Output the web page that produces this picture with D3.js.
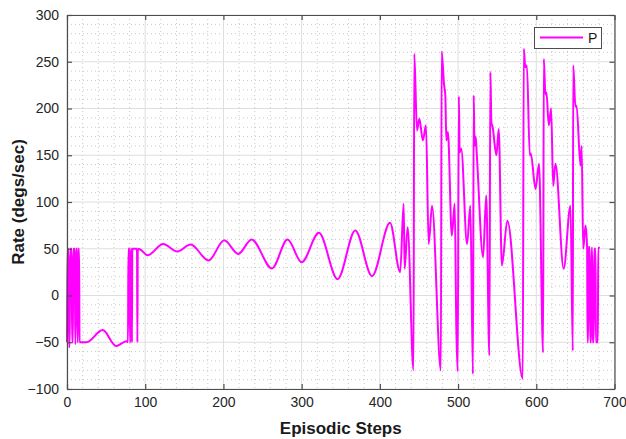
<!DOCTYPE html>
<html>
<head>
<meta charset="utf-8">
<script src="https://cdn.jsdelivr.net/npm/d3@7"></script>
<style>
  html, body { margin: 0; padding: 0; background: #fff; }
  svg { display: block; font-family: "Liberation Sans", Arial, Helvetica, sans-serif; }
</style>
</head>
<body>
<svg id="chart" width="626" height="439"></svg>
<script>
// ---- data ----
const steps = [
  0, 0.5, 2, 2.5, 3.5, 4, 6, 6.5, 7.5, 8, 10, 10.5, 11, 11.5, 13, 13.5, 14, 14.5, 15.5, 16,
  25, 45.6, 62.7, 76, 78,
  78.5, 80, 80.5, 81, 81.5, 82.5, 83, 83.5, 89.5, 90, 90.5,
  94, 103, 123, 141, 158, 181, 201, 219, 236, 262, 282, 300, 322, 346, 368.6, 390, 413,
  426, 430.4, 431.7, 435.5, 443, 444, 447.5, 450.5, 455, 459, 462.4, 466.7,
  478, 479, 482, 483.7, 485, 487, 492, 495.7, 497.8, 499.5, 501, 502, 504, 511.5, 515.7,
  519, 520, 521, 522.5, 524, 532, 536, 540, 541.3, 542.6, 544, 549, 552, 556, 563, 582.7,
  584, 586, 588, 591.7, 593, 599, 603.5, 608.7,
  609.6, 611.7, 613, 616, 619, 621.6, 624.5, 635, 643.7, 646.7,
  647.2, 650, 651.5, 656.5, 658, 660, 663, 665,
  665.5, 666.3, 666.8, 668.4, 668.9, 670.2, 670.7, 671.5, 672, 673.5, 674, 675.7, 676.2, 678.7, 679.2, 681.3
];
const rates = [
  -50, 50, 50, -55, -55, 50, 50, -50, -50, 50, 50, -52, -52, 50, 50, -50, -50, 50, 50, -50,
  -50, -37, -54, -49, -50,
  50, 50, -50, -50, 50, 50, -50, 50, 50, -50, 50,
  49, 43, 55, 47, 54.5, 37.5, 59, 44.5, 60, 29, 60, 35.5, 67, 17.5, 69.5, 20.7, 77.7,
  25, 98, 28.5, 73, -80, 258.5, 176.5, 189, 166, 182, 55, 96,
  -80, 261, 226, 214, 166, 175, 64, 98, -36, -81, 213, 153, 157, 55, 96,
  -84, 214, 160, 170, 150, 41, 107, -64, 239, 185, 181, 150, 178, 32, 80, -89,
  264, 244, 246, 150, 152, 114, 141, -61,
  253, 215, 217, 182, 200, 117, 141, 28.5, 96, -59,
  246, 202, 203, 139, 160, 50, 75, 50,
  -50, -50, 52, 52, -50, -50, 51, 51, -50, -50, 50, 50, -50, -50, 51, 51
];
const xTicks = [0, 100, 200, 300, 400, 500, 600, 700];
const yTicks = [-100, -50, 0, 50, 100, 150, 200, 250, 300];
const seriesName = "P";
const xLabel = "Episodic Steps";
const yLabel = "Rate (degs/sec)";

// ---- layout ----
const L = 67, T = 15, R = 614.5, B = 389;
const svg = d3.select("#chart");
const x = d3.scaleLinear().domain([0, 700]).range([L, R]);
const y = d3.scaleLinear().domain([-100, 300]).range([B, T]);

// minor grid
const gMinor = svg.append("g");
gMinor.selectAll("line.mx").data(d3.range(0, 701, 20).filter(v => v % 100 !== 0))
  .join("line")
  .attr("x1", d => x(d)).attr("x2", d => x(d)).attr("y1", T).attr("y2", B)
  .attr("stroke", "#c8c8c8").attr("stroke-width", 1).attr("stroke-dasharray", "1,3");
gMinor.selectAll("line.my").data(d3.range(-100, 301, 10).filter(v => v % 50 !== 0))
  .join("line")
  .attr("y1", d => y(d)).attr("y2", d => y(d)).attr("x1", L).attr("x2", R)
  .attr("stroke", "#c8c8c8").attr("stroke-width", 1).attr("stroke-dasharray", "1,3");

// major grid
const gMajor = svg.append("g");
gMajor.selectAll("line.gx").data(xTicks).join("line")
  .attr("x1", d => x(d)).attr("x2", d => x(d)).attr("y1", T).attr("y2", B)
  .attr("stroke", "#dedede").attr("stroke-width", 1);
gMajor.selectAll("line.gy").data(yTicks).join("line")
  .attr("y1", d => y(d)).attr("y2", d => y(d)).attr("x1", L).attr("x2", R)
  .attr("stroke", "#dedede").attr("stroke-width", 1);

// data line
const data = steps.map((s, i) => [s, rates[i]]);
const line = d3.line().x(d => x(d[0])).y(d => y(d[1])).curve(d3.curveMonotoneX);
svg.append("path").datum(data)
  .attr("d", line)
  .attr("fill", "none")
  .attr("stroke", "#ff00ff")
  .attr("stroke-width", 2)
  .attr("stroke-linejoin", "round");

// axes (ticks inward, box on)
const axisColor = "#4d4d4d";
const tickLen = 5;
const xb = svg.append("g").attr("transform", `translate(0,${B})`)
  .call(d3.axisBottom(x).tickValues(xTicks).tickSizeInner(-tickLen).tickSizeOuter(0).tickPadding(8));
const xt = svg.append("g").attr("transform", `translate(0,${T})`)
  .call(d3.axisTop(x).tickValues(xTicks).tickSizeInner(-tickLen).tickSizeOuter(0).tickFormat(""));
const yl = svg.append("g").attr("transform", `translate(${L},0)`)
  .call(d3.axisLeft(y).tickValues(yTicks).tickSizeInner(-tickLen).tickSizeOuter(0).tickPadding(8));
const yr = svg.append("g").attr("transform", `translate(${R},0)`)
  .call(d3.axisRight(y).tickValues(yTicks).tickSizeInner(-tickLen).tickSizeOuter(0).tickFormat(""));
[xb, xt, yl, yr].forEach(g => {
  g.select(".domain").attr("stroke", axisColor).attr("stroke-width", 1.2);
  g.selectAll(".tick line").attr("stroke", axisColor).attr("stroke-width", 1.2);
  g.selectAll(".tick text").attr("fill", "#262626").attr("font-size", 14)
    .attr("font-family", "\"Liberation Sans\", Arial, sans-serif");
});

// axis titles
svg.append("text")
  .attr("x", (L + R) / 2).attr("y", 434)
  .attr("text-anchor", "middle")
  .attr("font-size", 17).attr("font-weight", "bold").attr("fill", "#1a1a1a")
  .text(xLabel);
svg.append("text")
  .attr("transform", `translate(24,${(T + B) / 2}) rotate(-90)`)
  .attr("text-anchor", "middle")
  .attr("font-size", 17).attr("font-weight", "bold").attr("fill", "#1a1a1a")
  .text(yLabel);

// legend
const lg = svg.append("g");
lg.append("rect").attr("x", 534.5).attr("y", 27.5).attr("width", 67).attr("height", 21)
  .attr("fill", "#fff").attr("stroke", axisColor).attr("stroke-width", 1);
lg.append("line").attr("x1", 540).attr("x2", 583).attr("y1", 37.5).attr("y2", 37.5)
  .attr("stroke", "#ff00ff").attr("stroke-width", 2);
lg.append("text").attr("x", 588).attr("y", 43).attr("font-size", 14).attr("fill", "#1a1a1a")
  .text(seriesName);
</script>
</body>
</html>
